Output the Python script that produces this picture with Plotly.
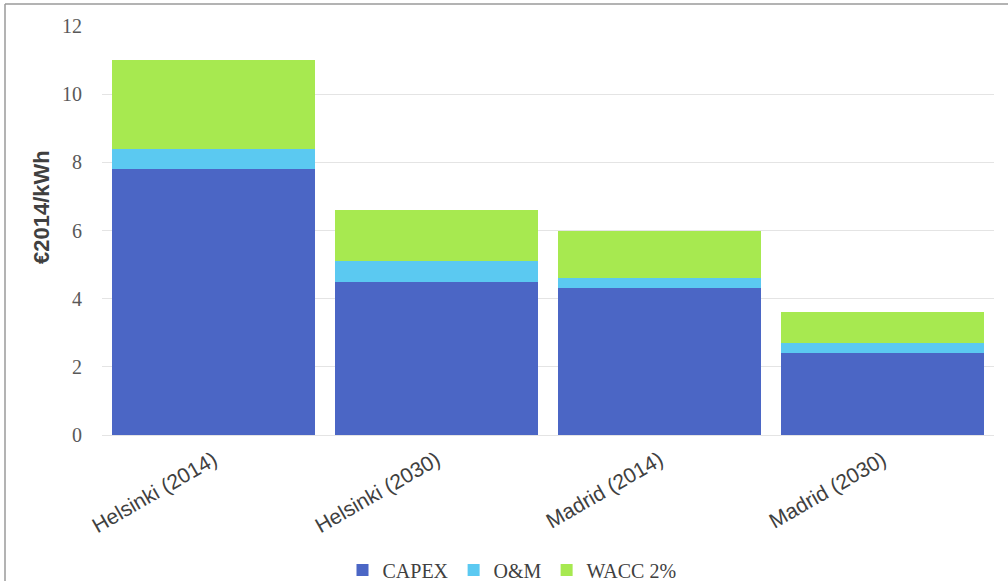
import plotly.graph_objects as go

categories = ["Helsinki (2014)", "Helsinki (2030)", "Madrid (2014)", "Madrid (2030)"]
capex = [7.8, 4.5, 4.3, 2.4]
om = [0.6, 0.6, 0.3, 0.3]
wacc = [2.6, 1.5, 1.4, 0.9]
y_ticks = [0, 2, 4, 6, 8, 10, 12]

series = [
    ("CAPEX", capex, "#4B66C5"),
    ("O&M", om, "#5BC9F1"),
    ("WACC 2%", wacc, "#A7E950"),
]

fig = go.Figure()
for name, vals, color in series:
    fig.add_trace(go.Bar(x=categories, y=vals, name=name,
                         marker=dict(color=color, line=dict(width=0))))

# plot area in pixels: left 102, right 994, top 26, bottom 435
L, R, T, B = 102, 994, 26, 435
W, H = 1008, 581
pw, ph = R - L, B - T

def px_x(x):
    return (x - L) / pw

def px_y(y):
    return (B - y) / ph

fig.update_layout(
    width=W, height=H,
    margin=dict(l=L, r=W - R, t=T, b=H - B, autoexpand=False),
    barmode="stack",
    bargap=0.09,
    plot_bgcolor="white",
    paper_bgcolor="white",
    showlegend=True,
    legend=dict(orientation="h", xref="container", yref="container",
                x=512 / W, xanchor="center", y=(H - 570) / H, yanchor="middle",
                font=dict(family="Liberation Serif", size=20, color="#404040"),
                itemwidth=30, traceorder="normal", tracegroupgap=0),
    xaxis=dict(tickangle=-30, tickfont=dict(family="Liberation Sans", size=21, color="#404040"),
               showgrid=False, showline=False, ticks="", automargin=False,
               ticklabelstandoff=8),
    yaxis=dict(range=[0, 12], tickvals=y_ticks, showgrid=True, gridcolor="#E4E4E4", gridwidth=1,
               zeroline=True, zerolinecolor="#E4E4E4", zerolinewidth=1,
               tickfont=dict(family="Liberation Serif", size=20, color="#595959"),
               ticklabelstandoff=19, automargin=False),
    annotations=[
        dict(text="<b>€2014/kWh</b>", textangle=-90, showarrow=False,
             xref="paper", yref="paper", x=px_x(41), y=px_y(207),
             xanchor="center", yanchor="middle",
             font=dict(family="Liberation Sans", size=22, color="#404040")),
    ],
    shapes=[
        dict(type="line", xref="paper", yref="paper", x0=px_x(5), x1=px_x(1008),
             y0=px_y(4), y1=px_y(4), line=dict(color="#9A9A9A", width=1.5)),
        dict(type="line", xref="paper", yref="paper", x0=px_x(5), x1=px_x(5),
             y0=px_y(4), y1=px_y(581), line=dict(color="#9A9A9A", width=1.5)),
    ],
)

fig.write_html("out.html")
